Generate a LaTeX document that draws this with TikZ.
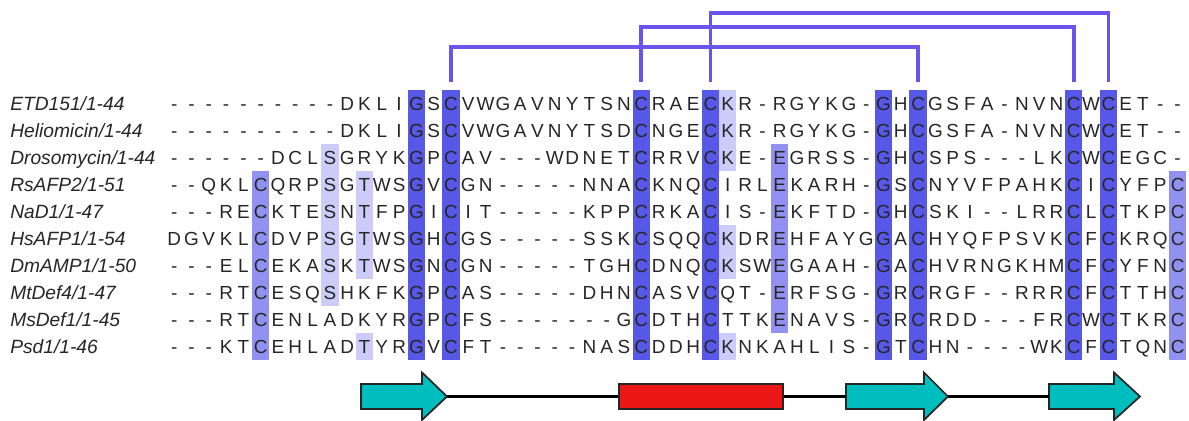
\documentclass[tikz,border=0pt]{standalone}
\usepackage{fontspec}
\setmainfont{Liberation Sans}
\usepackage{xstring}

\definecolor{idhigh}{RGB}{88,88,232}
\definecolor{idmid}{RGB}{145,145,242}
\definecolor{idlow}{RGB}{204,204,250}
\definecolor{bondblue}{RGB}{105,85,235}
\definecolor{strandcyan}{RGB}{0,190,190}
\definecolor{helixred}{RGB}{235,22,22}

\begin{document}
\begin{tikzpicture}[x=0.75pt, y=-0.75pt,
  every node/.style={inner sep=0pt, font=\fontsize{14.2}{17}\selectfont, text=black!85},
  res/.style={anchor=base},
  seqname/.style={anchor=base west, font=\fontsize{14.4}{17}\selectfont\itshape},
  bond/.style={draw=bondblue, line width=2.8pt},
  loopline/.style={draw=black, line width=1.8pt},
  strand/.style={draw=black!85, line width=1.3pt, fill=strandcyan},
  helix/.style={rectangle, draw=black!85, line width=1.3pt, fill=helixred, minimum width=123pt, minimum height=18.75pt}]
  \useasboundingbox (0,0) rectangle (1189,421);
  % conservation shading
  \foreach \c in {15,17,28,32,42,44,53,55}
    \fill[idhigh] ({165.55+(\c-1)*17.3},90) rectangle ++(17.3,270);
  \foreach \c/\ra/\rb in {6/4/10, 36/3/9, 59/4/10}
    \fill[idmid] ({165.55+(\c-1)*17.3},{90+(\ra-1)*27}) rectangle ({182.85+(\c-1)*17.3},{90+\rb*27});
  \foreach \c/\ra/\rb in {10/3/8, 12/4/7, 12/10/10, 33/1/3, 33/6/7, 33/10/10}
    \fill[idlow] ({165.55+(\c-1)*17.3},{90+(\ra-1)*27}) rectangle ({182.85+(\c-1)*17.3},{90+\rb*27});
  % aligned sequences
  \foreach \nm/\len/\sq [count=\r] in {
    ETD151/44/----------DKLIGSCVWGAVNYTSNCRAECKR-RGYKG-GHCGSFA-NVNCWCET--,
    Heliomicin/44/----------DKLIGSCVWGAVNYTSDCNGECKR-RGYKG-GHCGSFA-NVNCWCET--,
    Drosomycin/44/------DCLSGRYKGPCAV---WDNETCRRVCKE-EGRSS-GHCSPS---LKCWCEGC-,
    RsAFP2/51/--QKLCQRPSGTWSGVCGN-----NNACKNQCIRLEKARH-GSCNYVFPAHKCICYFPC,
    NaD1/47/---RECKTESNTFPGICIT-----KPPCRKACIS-EKFTD-GHCSKI--LRRCLCTKPC,
    HsAFP1/54/DGVKLCDVPSGTWSGHCGS-----SSKCSQQCKDREHFAYGGACHYQFPSVKCFCKRQC,
    DmAMP1/50/---ELCEKASKTWSGNCGN-----TGHCDNQCKSWEGAAH-GACHVRNGKHMCFCYFNC,
    MtDef4/47/---RTCESQSHKFKGPCAS-----DHNCASVCQT-ERFSG-GRCRGF--RRRCFCTTHC,
    MsDef1/45/---RTCENLADKYRGPCFS-------GCDTHCTTKENAVS-GRCRDD---FRCWCTKRC,
    Psd1/46/---KTCEHLADTYRGVCFT-----NASCDDHCKNKAHLIS-GTCHN----WKCFCTQNC}{
    \node[seqname] (name\r) at (10,{110+(\r-1)*27}) {\nm/1-\len};
    \foreach \c in {1,...,59}{
      \StrChar{\sq}{\c}[\ch]
      \node[res] (r\r-\c) at ({174.2+(\c-1)*17.3},{110+(\r-1)*27}) {\ch};
    }
  }
  % disulfide bridges
  \foreach \c in {17,28,32,44,53,55}
    \coordinate (cys\c) at ({174.2+(\c-1)*17.3},82);
  \draw[bond] (cys17) -- ++(0,-35.3) -| (cys44);
  \draw[bond] (cys28) -- ++(0,-55.3) -| (cys53);
  \draw[bond] (cys32) -- ++(0,-68.7) -| (cys55);
  % secondary structure
  \foreach \a/\b/\t [count=\i] in {361/422/447, 846/924/948, 1049/1114/1140}{
    \draw[strand] (\a,384) -- (\b,384) -- (\b,372.5) -- (\t,396.5) -- (\b,420) -- (\b,409) -- (\a,409) -- cycle;
    \coordinate (tail\i) at (\a,396.5);
    \coordinate (tip\i) at (\t,396.5);
  }
  \node[helix] (helix) at (701,396.5) {};
  \draw[loopline] (tip1) -- (helix.west);
  \draw[loopline] (helix.east) -- (tail2);
  \draw[loopline] (tip2) -- (tail3);
\end{tikzpicture}
\end{document}
